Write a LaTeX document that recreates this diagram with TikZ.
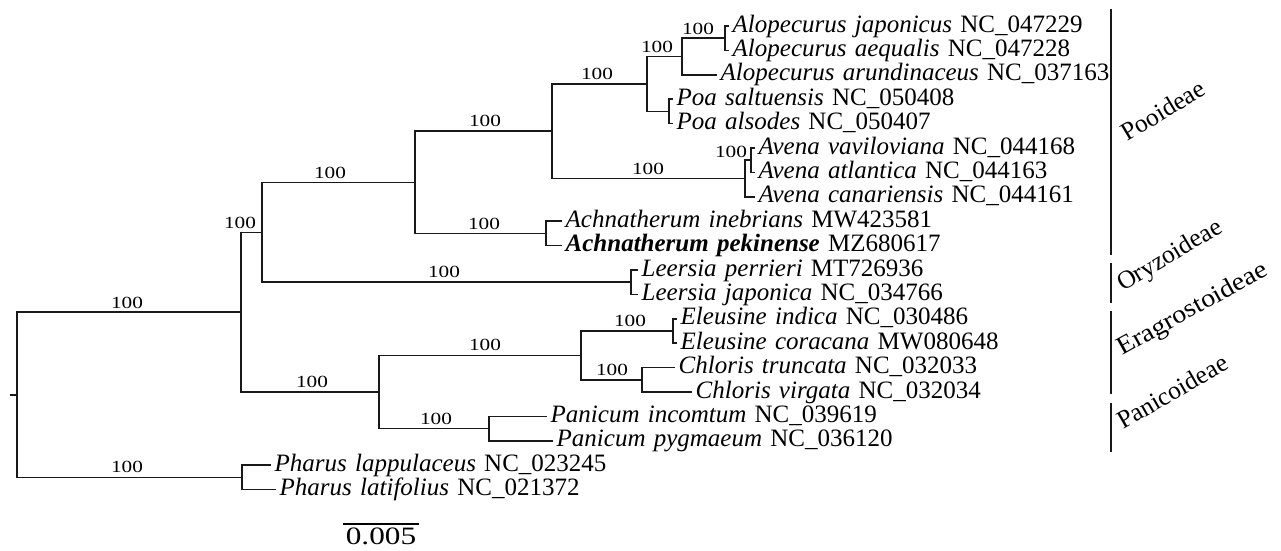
\documentclass[tikz,border=0pt]{standalone}
\usepackage{fontspec}
\setmainfont{Liberation Serif}
\newfontfamily\bsfont[FakeStretch=1.25]{Liberation Serif}
\newfontfamily\wideclade[FakeStretch=1.1]{Liberation Serif}
\newcommand{\leaffont}{\fontsize{25}{26}\selectfont\spaceskip=0.33em plus 0.1em}
\begin{document}
\begin{tikzpicture}[x=1pt,y=-1pt,
  br/.style={line width=1.5pt, black!90},
  leaf/.style={anchor=west, inner xsep=3.5pt, inner ysep=0pt, text height=16pt, text depth=4pt, font=\leaffont},
  bs/.style={inner sep=0pt, font=\bsfont\fontsize{17}{17}\selectfont},
  clade/.style={anchor=base west, inner sep=0pt, font=\fontsize{25.5}{26}\selectfont},
  cbar/.style={line width=1.5pt, black!90}]
\useasboundingbox (0,0) rectangle (1281,550);
% internal nodes
\coordinate (root) at (17,394.8);
\coordinate (stub) at (10,394.8);
\coordinate (B) at (241,312.1);
\coordinate (pharus) at (242,477.4);
\coordinate (A) at (262,232.3);
\coordinate (C) at (379,392);
\coordinate (D) at (415,182.3);
\coordinate (leer) at (631,282.2);
\coordinate (P0) at (552,131.2);
\coordinate (ach) at (546,233.4);
\coordinate (Q) at (647,84);
\coordinate (avena) at (745,178.5);
\coordinate (va) at (751,160.2);
\coordinate (alop) at (682,56.5);
\coordinate (ajae) at (725,38.2);
\coordinate (poa) at (669,111.4);
\coordinate (E1) at (581,355.4);
\coordinate (eleu) at (673,331);
\coordinate (chl) at (642,379.8);
\coordinate (pan) at (489,428.6);
% leaves
\node[leaf] (l1) at (729,26) {\textit{Alopecurus japonicus} NC\_047229};
\node[leaf] (l2) at (729,50.4) {\textit{Alopecurus aequalis} NC\_047228};
\node[leaf] (l3) at (717,74.8) {\textit{Alopecurus arundinaceus} NC\_037163};
\node[leaf] (l4) at (673,99.2) {\textit{Poa saltuensis} NC\_050408};
\node[leaf] (l5) at (673,123.6) {\textit{Poa alsodes} NC\_050407};
\node[leaf] (l6) at (755,148) {\textit{Avena vaviloviana} NC\_044168};
\node[leaf] (l7) at (755,172.4) {\textit{Avena atlantica} NC\_044163};
\node[leaf] (l8) at (755,196.8) {\textit{Avena canariensis} NC\_044161};
\node[leaf] (l9) at (562,221.2) {\textit{Achnatherum inebrians} MW423581};
\node[leaf] (l10) at (562,245.6) {\textbf{\textit{Achnatherum pekinense}} MZ680617};
\node[leaf] (l11) at (638,270) {\textit{Leersia perrieri} MT726936};
\node[leaf] (l12) at (638,294.4) {\textit{Leersia japonica} NC\_034766};
\node[leaf] (l13) at (677,318.8) {\textit{Eleusine indica} NC\_030486};
\node[leaf] (l14) at (677,343.2) {\textit{Eleusine coracana} MW080648};
\node[leaf] (l15) at (675,367.6) {\textit{Chloris truncata} NC\_032033};
\node[leaf] (l16) at (692,392) {\textit{Chloris virgata} NC\_032034};
\node[leaf] (l17) at (547,416.4) {\textit{Panicum incomtum} NC\_039619};
\node[leaf] (l18) at (553,440.8) {\textit{Panicum pygmaeum} NC\_036120};
\node[leaf] (l19) at (271,465.2) {\textit{Pharus lappulaceus} NC\_023245};
\node[leaf] (l20) at (276,489.6) {\textit{Pharus latifolius} NC\_021372};
% branches
\draw[br] (stub) -- (root);
\draw[br] (root) |- (B);
\draw[br] (root) |- (pharus);
\draw[br] (B) |- (A);
\draw[br] (B) |- (C);
\draw[br] (A) |- (D);
\draw[br] (A) |- (leer);
\draw[br] (D) |- (P0);
\draw[br] (D) |- (ach);
\draw[br] (P0) |- (Q);
\draw[br] (P0) |- (avena);
\draw[br] (Q) |- (alop);
\draw[br] (Q) |- (poa);
\draw[br] (alop) |- (ajae);
\draw[br] (alop) |- (l3.west);
\draw[br] (ajae) |- (l1.west);
\draw[br] (ajae) |- (l2.west);
\draw[br] (poa) |- (l4.west);
\draw[br] (poa) |- (l5.west);
\draw[br] (avena) |- (va);
\draw[br] (avena) |- (l8.west);
\draw[br] (va) |- (l6.west);
\draw[br] (va) |- (l7.west);
\draw[br] (ach) |- (l9.west);
\draw[br] (ach) |- (l10.west);
\draw[br] (leer) |- (l11.west);
\draw[br] (leer) |- (l12.west);
\draw[br] (C) |- (E1);
\draw[br] (C) |- (pan);
\draw[br] (E1) |- (eleu);
\draw[br] (E1) |- (chl);
\draw[br] (eleu) |- (l13.west);
\draw[br] (eleu) |- (l14.west);
\draw[br] (chl) |- (l15.west);
\draw[br] (chl) |- (l16.west);
\draw[br] (pan) |- (l17.west);
\draw[br] (pan) |- (l18.west);
\draw[br] (pharus) |- (l19.west);
\draw[br] (pharus) |- (l20.west);
% bootstrap values
\node[bs] (b1) at (698,29) {100};
\node[bs] (b2) at (657,47) {100};
\node[bs] (b3) at (597,74) {100};
\node[bs] (b4) at (485,121) {100};
\node[bs] (b5) at (648,169) {100};
\node[bs] (b6) at (731,152) {100};
\node[bs] (b7) at (484,224) {100};
\node[bs] (b8) at (330,173) {100};
\node[bs] (b9) at (240,223) {100};
\node[bs] (b10) at (444,272) {100};
\node[bs] (b11) at (312,382) {100};
\node[bs] (b12) at (485,345) {100};
\node[bs] (b13) at (436,419) {100};
\node[bs] (b14) at (630,321) {100};
\node[bs] (b15) at (612,370) {100};
\node[bs] (b16) at (127,303) {100};
\node[bs] (b17) at (127,467) {100};
% clade bars
\coordinate (pooT) at (1111,9);
\coordinate (pooB) at (1111,255);
\coordinate (oryT) at (1111,263);
\coordinate (oryB) at (1111,303);
\coordinate (eraT) at (1111,311);
\coordinate (eraB) at (1111,394);
\coordinate (panT) at (1111,403);
\coordinate (panB) at (1111,452);
\draw[cbar] (pooT) -- (pooB);
\draw[cbar] (oryT) -- (oryB);
\draw[cbar] (eraT) -- (eraB);
\draw[cbar] (panT) -- (panB);
\node[clade, rotate=31] (cpoo) at (1127,142) {Pooideae};
\node[clade, rotate=31] (cory) at (1123,292) {Oryzoideae};
\node[clade, rotate=29, font=\wideclade\fontsize{25.5}{26}\selectfont] (cera) at (1122,356) {Eragrostoideae};
\node[clade, rotate=30] (cpan) at (1123,430) {Panicoideae};
% scale bar
\coordinate (sbL) at (343,524);
\coordinate (sbR) at (419,524);
\draw[line width=1.5pt] (sbL) -- (sbR);
\node[anchor=north, inner sep=0pt, font=\bsfont\fontsize{25}{25}\selectfont] (sbt) at (381,528) {0.005};
\end{tikzpicture}
\end{document}
